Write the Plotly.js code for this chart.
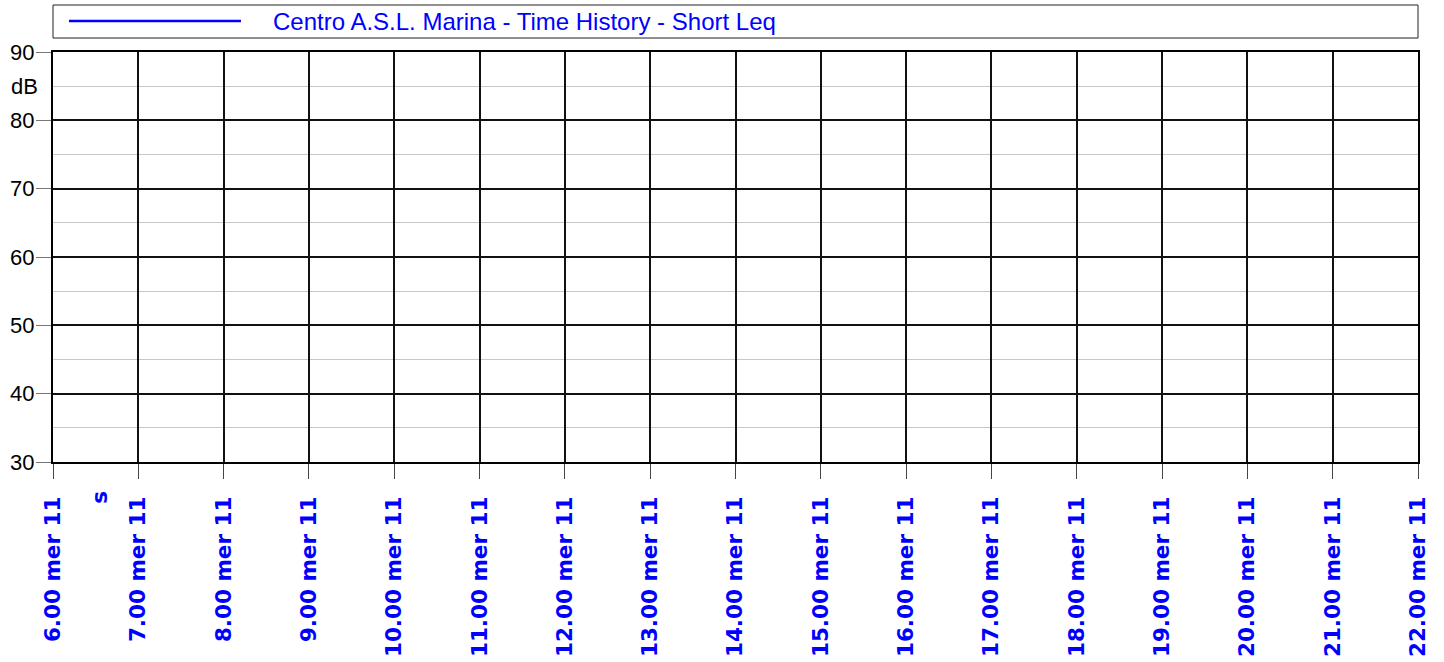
<!DOCTYPE html>
<html>
<head>
<meta charset="utf-8">
<script src="https://cdn.plot.ly/plotly-3.0.1.min.js"></script>
<style>html,body{margin:0;padding:0;background:#fff;}#chart{width:1444px;height:662px;}</style>
</head>
<body>
<div id="chart"></div>
<script>
// ---- data ----
const seriesName = "Centro A.S.L. Marina - Time History - Short Leq";
const timeValues = [];   // no samples drawn in the reference
const leqValues = [];
const xTickVals = ["2011-05-11 06:00","2011-05-11 07:00","2011-05-11 08:00","2011-05-11 09:00",
  "2011-05-11 10:00","2011-05-11 11:00","2011-05-11 12:00","2011-05-11 13:00","2011-05-11 14:00",
  "2011-05-11 15:00","2011-05-11 16:00","2011-05-11 17:00","2011-05-11 18:00","2011-05-11 19:00",
  "2011-05-11 20:00","2011-05-11 21:00","2011-05-11 22:00"];
const xTickText = ["6.00 mer 11","7.00 mer 11","8.00 mer 11","9.00 mer 11","10.00 mer 11",
  "11.00 mer 11","12.00 mer 11","13.00 mer 11","14.00 mer 11","15.00 mer 11","16.00 mer 11",
  "17.00 mer 11","18.00 mer 11","19.00 mer 11","20.00 mer 11","21.00 mer 11","22.00 mer 11"];
const yTickVals = [30,40,50,60,70,80,90];
const yUnit = "dB";
const xUnit = "s";

const blue = "#0000ff";
const trace = {
  type: "scatter", mode: "lines", x: timeValues, y: leqValues, name: seriesName,
  line: {color: blue, width: 2}, showlegend: false
};

const layout = {
  width: 1444, height: 662,
  margin: {l: 53, r: 26, t: 52, b: 200, pad: 0},
  paper_bgcolor: "#fff", plot_bgcolor: "#fff",
  showlegend: false,
  xaxis: {
    type: "date",
    range: [xTickVals[0], xTickVals[xTickVals.length-1]],
    tickmode: "array", tickvals: xTickVals, ticktext: xTickText,
    tickangle: -90,
    ticks: "outside", ticklen: 15, tickcolor: "#444", tickwidth: 1,
    ticklabelstandoff: 9,
    tickfont: {family: "DejaVu Sans", size: 21.5, color: blue, weight: "bold"},
    showgrid: true, gridcolor: "#111", gridwidth: 2,
    showline: true, linecolor: "#000", linewidth: 2, mirror: true,
    zeroline: false, fixedrange: true
  },
  yaxis: {
    range: [30, 90],
    tickmode: "array", tickvals: yTickVals,
    ticks: "outside", ticklen: 15, tickcolor: "#777", tickwidth: 1,
    ticklabelstandoff: -3,
    tickfont: {family: "Liberation Sans, Arial", size: 22, color: "#000"},
    showgrid: true, gridcolor: "#111", gridwidth: 2,
    minor: {dtick: 5, tick0: 35, showgrid: true, gridcolor: "#c8c8c8", gridwidth: 1, ticks: ""},
    showline: true, linecolor: "#000", linewidth: 2, mirror: true,
    zeroline: false, fixedrange: true
  },
  shapes: [
    {type: "rect", xref: "paper", yref: "paper", x0: 0, x1: 1, y0: 1.0341, y1: 1.1146,
     line: {color: "#222", width: 1}, fillcolor: "rgba(0,0,0,0)"},
    {type: "line", xref: "paper", yref: "paper", x0: 0.0117, x1: 0.1377, y0: 1.0756, y1: 1.0756,
     line: {color: blue, width: 2.5}}
  ],
  annotations: [
    {xref: "paper", yref: "paper", x: 0.1597, y: 1.0756, xanchor: "left", yanchor: "middle",
     text: seriesName, showarrow: false, font: {family: "Liberation Sans, Arial", size: 24, color: blue}},
    {xref: "paper", yref: "y", x: -0.0095, y: 85, xanchor: "right", yanchor: "middle",
     text: yUnit, showarrow: false, font: {family: "Liberation Sans, Arial", size: 22, color: "#000"}},
    {xref: "paper", yref: "paper", x: 0.0335, y: -0.0854, xanchor: "center", yanchor: "middle",
     text: xUnit, textangle: -90, showarrow: false,
     font: {family: "DejaVu Sans", size: 21.5, color: blue, weight: "bold"}}
  ]
};

Plotly.newPlot("chart", [trace], layout, {displayModeBar: false, staticPlot: true});
</script>
</body>
</html>
